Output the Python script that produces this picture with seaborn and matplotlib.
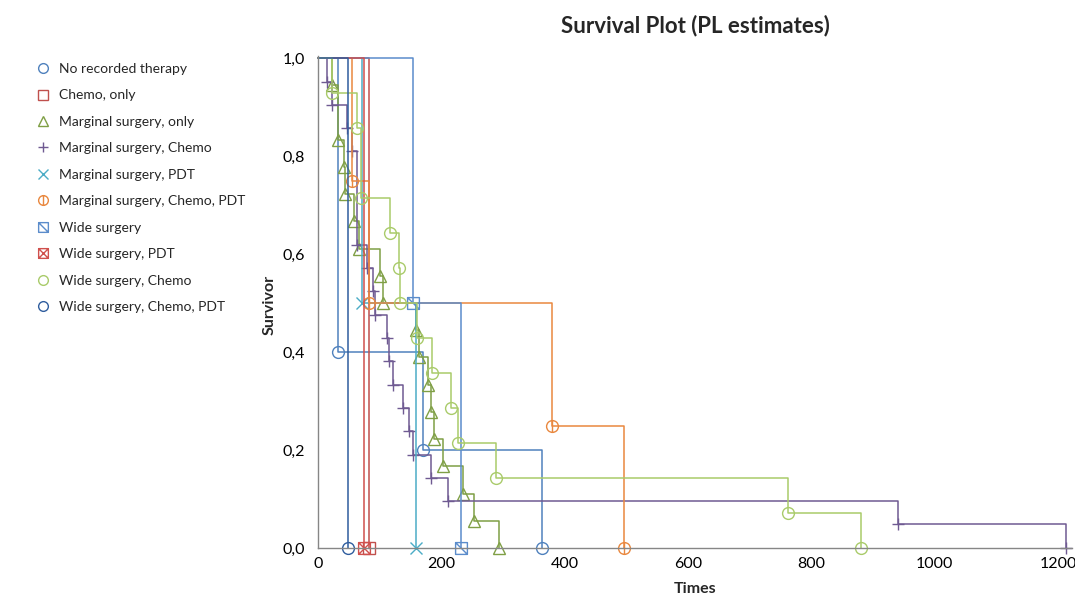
import matplotlib
matplotlib.use("Agg")
import matplotlib.pyplot as plt
from matplotlib.path import Path
from matplotlib.lines import Line2D
from matplotlib.ticker import FuncFormatter
import seaborn as sns

# Kaplan-Meier step data (time of each step, survival after it)
groups = [
    "No recorded therapy",
    "Chemo, only",
    "Marginal surgery, only",
    "Marginal surgery, Chemo",
    "Marginal surgery, PDT",
    "Marginal surgery, Chemo, PDT",
    "Wide surgery",
    "Wide surgery, PDT",
    "Wide surgery, Chemo",
    "Wide surgery, Chemo, PDT",
]

t_no_therapy = [32.9, 170.3, 363.2]
s_no_therapy = [0.4, 0.2, 0.0]

t_chemo = [82.7]
s_chemo = [0.0]

t_marg = [22.2, 32, 42.6, 43.8, 58.4, 66.5, 100.5, 105, 159, 163, 177.6, 184, 188, 202.7, 235, 253, 293.5]
s_marg = [0.944, 0.833, 0.778, 0.722, 0.667, 0.611, 0.556, 0.5, 0.444, 0.389, 0.333, 0.278, 0.222, 0.167,
          0.111, 0.056, 0.0]

t_marg_chemo = [14.1, 22.2, 47, 54.6, 62.8, 79, 88.7, 92.4, 111.4, 115, 121.6, 137.8, 147, 154, 183, 211, 940, 1213]
s_marg_chemo = [0.952, 0.905, 0.857, 0.810, 0.619, 0.571, 0.524, 0.476, 0.429, 0.381, 0.333, 0.286, 0.238,
                0.190, 0.143, 0.095, 0.048, 0.0]

t_marg_pdt = [70.9, 158.4]
s_marg_pdt = [0.5, 0.0]

t_marg_chemo_pdt = [55.6, 83.2, 379.4, 496.2]
s_marg_chemo_pdt = [0.75, 0.5, 0.25, 0.0]

t_wide = [154, 231.9]
s_wide = [0.5, 0.0]

t_wide_pdt = [75.1]
s_wide_pdt = [0.0]

t_wide_chemo = [22.2, 62.8, 70.5, 117.2, 131.3, 133, 161, 184.4, 215, 227.5, 288.6, 761.6, 880.5]
s_wide_chemo = [0.929, 0.857, 0.714, 0.643, 0.571, 0.5, 0.429, 0.357, 0.286, 0.214, 0.143, 0.071, 0.0]

t_wide_chemo_pdt = [49.1]
s_wide_chemo_pdt = [0.0]

times = [t_no_therapy, t_chemo, t_marg, t_marg_chemo, t_marg_pdt, t_marg_chemo_pdt,
         t_wide, t_wide_pdt, t_wide_chemo, t_wide_chemo_pdt]
survs = [s_no_therapy, s_chemo, s_marg, s_marg_chemo, s_marg_pdt, s_marg_chemo_pdt,
         s_wide, s_wide_pdt, s_wide_chemo, s_wide_chemo_pdt]

# custom markers
MV, LN, CL = Path.MOVETO, Path.LINETO, Path.CLOSEPOLY
square = Path([(-1, -1), (1, -1), (1, 1), (-1, 1), (-1, -1)], [MV, LN, LN, LN, CL])
diag = Path([(-1, 1), (1, -1)], [MV, LN])
anti = Path([(-1, -1), (1, 1)], [MV, LN])
bar = Path([(0, -1), (0, 1)], [MV, LN])
circle_bar = Path.make_compound_path(Path.unit_circle(), bar)
square_diag = Path.make_compound_path(square, diag)
square_x = Path.make_compound_path(square, diag, anti)

markers = ["o", "s", "^", "+", "x", circle_bar, square_diag, square_x, "o", "o"]
colors = ["#4F81BD", "#C0504D", "#7F9F45", "#6F5A92", "#4BACC6", "#E9883F",
          "#5B8CCB", "#D0504D", "#A9CB6A", "#2F5D9E"]

sns.set_style("white")
plt.rcParams["font.family"] = ["Lato", "DejaVu Sans"]

fig = plt.figure(figsize=(10.75, 5.97), dpi=100)
ax = fig.add_axes([318 / 1075, 49 / 597, 754 / 1075, 492 / 597])

for name, t, s, m, c in zip(groups, times, survs, markers, colors):
    xs = [0] + t
    ys = [1.0] + s
    sns.lineplot(x=xs, y=ys, ax=ax, drawstyle="steps-post", estimator=None, sort=False,
                 color=c, lw=1.1, clip_on=False)
    ax.plot(t, s, ls="none", marker=m, mfc="none", mec=c, ms=8.5, mew=1.0, clip_on=False)

ax.set_xlim(0, 1222.6)
ax.set_ylim(0, 1.0041)
ax.set_xticks(range(0, 1201, 200))
ax.set_yticks([0, 0.2, 0.4, 0.6, 0.8, 1.0])
ax.yaxis.set_major_formatter(FuncFormatter(lambda v, p: f"{v:.1f}".replace(".", ",")))

for side in ["top", "right"]:
    ax.spines[side].set_visible(False)
for side in ["left", "bottom"]:
    ax.spines[side].set_color("#868686")
    ax.spines[side].set_linewidth(1.0)
ax.tick_params(axis="both", direction="out", length=3.6, width=1, color="#868686",
               labelsize=11.5, labelcolor="black")
ax.tick_params(axis="y", pad=5.5)
ax.tick_params(axis="x", pad=3)

ax.set_xlabel("Times", fontsize=11.5, fontweight="bold")
ax.set_ylabel("Survivor", fontsize=11.5, fontweight="bold")
ax.xaxis.set_label_coords(0.5, -0.069)
ax.yaxis.set_label_coords(-0.0544, 0.494)

fig.text(695 / 1075, 1 - 26 / 597, "Survival Plot (PL estimates)", ha="center", va="center",
         fontsize=16, fontweight="bold")

handles = [Line2D([], [], ls="none", marker=m, mfc="none", mec=c, ms=7, mew=1.0)
           for m, c in zip(markers, colors)]
fig.legend(handles, groups, loc="upper left", bbox_to_anchor=(36 / 1075, 1 - 63 / 597),
           frameon=False, fontsize=10, handlelength=1.0, handletextpad=0.65,
           borderpad=0, borderaxespad=0, labelspacing=1.04)

fig.savefig("out.png", dpi=100)
